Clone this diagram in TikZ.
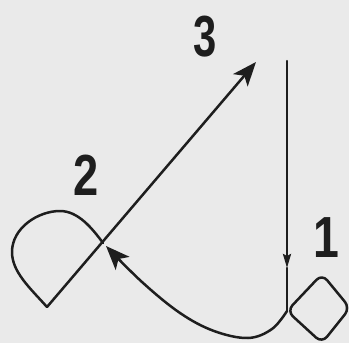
\documentclass[tikz,border=0pt]{standalone}
\usepackage{fontspec}
\usepackage{graphicx}
\setmainfont{Liberation Sans}
\usetikzlibrary{arrows.meta}
\definecolor{bg}{RGB}{234,234,234}
\definecolor{ink}{RGB}{30,30,30}
\tikzset{
  curve/.style={draw=ink, line width=2.5pt, line join=round, line cap=round},
  bigtip/.style={-{Stealth[length=24pt,width=19pt,inset=6pt]}},
  numlabel/.style={text=ink, inner sep=0pt, font=\fontsize{58}{58}\selectfont\bfseries}
}
\begin{document}
\begin{tikzpicture}[x=1pt,y=-1pt]
\fill[bg] (0,0) rectangle (349,343);
\useasboundingbox (0,0) rectangle (349,343);
% named points
\coordinate (top1) at (287,61);
\coordinate (mark1) at (287,268);
\coordinate (cross1) at (287,311);
\coordinate (cross2) at (103,243);
\coordinate (corner2) at (47,307);
\coordinate (tip3) at (256,62);
\coordinate (tip2) at (106,246);
% vertical line with small arrow mark
\draw[curve, -{Stealth[length=14pt,width=8pt,inset=2pt]}] (top1) -- (mark1);
\draw[curve] (mark1) -- (cross1);
% loop 1 (diamond)
\draw[curve, rounded corners=8pt] (cross1) -- (322,274) -- (350,308) -- (322,343) -- cycle;
% curve from loop 1 to crossing 2
\draw[curve, bigtip] plot[smooth, tension=0.6] coordinates {(cross1) (272,329) (248,338) (214,331) (180,313) (142,282) (tip2)};
% loop 2
\draw[curve] (corner2) .. controls (30,288) and (12,272) .. (12,252)
  .. controls (12,228) and (38,211) .. (60,211)
  .. controls (78,211) and (92,228) .. (cross2);
% straight arrow to 3
\draw[curve, bigtip] (corner2) -- (tip3);
% labels
\node[numlabel] (n3) at (205,37) {\scalebox{0.72}[1]{3}};
\node[numlabel] (n2) at (86,175) {\scalebox{0.78}[1]{2}};
\node[numlabel] (n1) at (326,238) {\scalebox{0.8}[1]{1}};
\end{tikzpicture}
\end{document}
